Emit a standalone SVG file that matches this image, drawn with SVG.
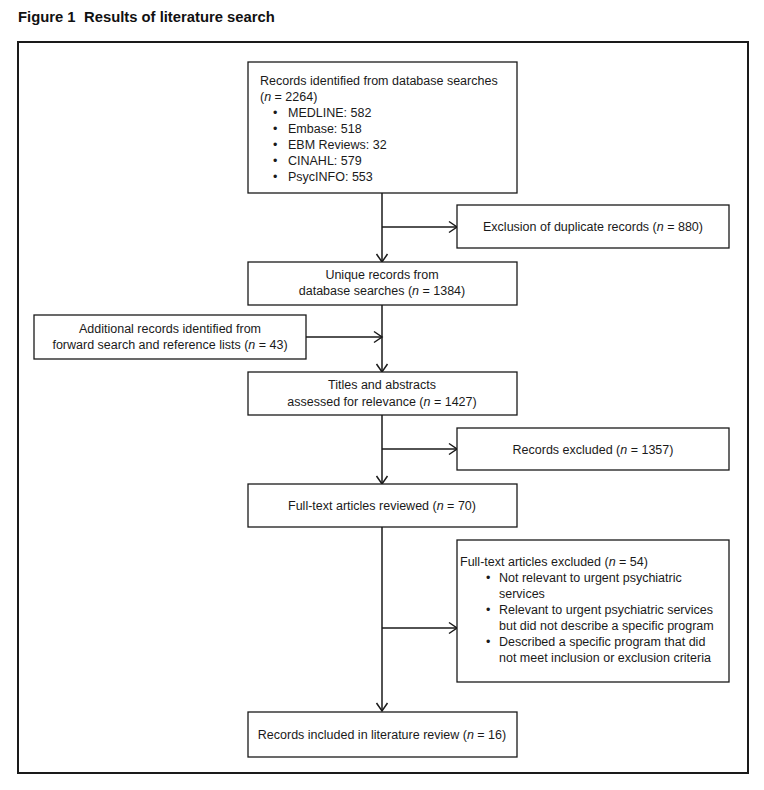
<svg xmlns="http://www.w3.org/2000/svg" width="764" height="790" viewBox="0 0 764 790">
<style>
.t{font-family:"Liberation Sans",Arial,sans-serif;font-size:12.5px;fill:#1a1a1a}
.c{text-anchor:middle}
.box{fill:#fff;stroke:#1a1a1a;stroke-width:1.3}
.ln{fill:none;stroke:#1a1a1a;stroke-width:1.5}
.ttl{font-family:"Liberation Sans",Arial,sans-serif;font-size:14.8px;font-weight:bold;fill:#111;white-space:pre}
</style>
<defs>
<marker id="ah" viewBox="0 0 8 12" refX="8" refY="6" markerWidth="8" markerHeight="12" markerUnits="userSpaceOnUse" orient="auto" overflow="visible">
<path d="M0,0.5 L8,6 L0,11.5" fill="none" stroke="#1a1a1a" stroke-width="1.5"/>
</marker>
</defs>
<rect width="764" height="790" fill="#fff"/>
<text class="ttl" x="18" y="22">Figure 1</text>
<text class="ttl" x="84" y="22">Results of literature search</text>
<rect x="18" y="42" width="730" height="731" fill="none" stroke="#1a1a1a" stroke-width="2"/>
<g id="connectors">
<line class="ln" x1="382" y1="193" x2="382" y2="262" marker-end="url(#ah)"/>
<line class="ln" x1="382" y1="227" x2="457" y2="227" marker-end="url(#ah)"/>
<line class="ln" x1="382" y1="305" x2="382" y2="372" marker-end="url(#ah)"/>
<line class="ln" x1="306" y1="337" x2="382" y2="337" marker-end="url(#ah)"/>
<line class="ln" x1="382" y1="415" x2="382" y2="484" marker-end="url(#ah)"/>
<line class="ln" x1="382" y1="449" x2="457" y2="449" marker-end="url(#ah)"/>
<line class="ln" x1="382" y1="527" x2="382" y2="711" marker-end="url(#ah)"/>
<line class="ln" x1="382" y1="628" x2="457" y2="628" marker-end="url(#ah)"/>
</g>
<g id="n1">
<rect class="box" x="248" y="62" width="269" height="131"/>
<text class="t" x="260" y="85">Records identified from database searches</text>
<text class="t" x="260" y="101">(<tspan font-style="italic">n</tspan> = 2264)</text>
<text class="t" x="273" y="117">•</text><text class="t" x="288" y="117">MEDLINE: 582</text>
<text class="t" x="273" y="133">•</text><text class="t" x="288" y="133">Embase: 518</text>
<text class="t" x="273" y="149">•</text><text class="t" x="288" y="149">EBM Reviews: 32</text>
<text class="t" x="273" y="165">•</text><text class="t" x="288" y="165">CINAHL: 579</text>
<text class="t" x="273" y="181">•</text><text class="t" x="288" y="181">PsycINFO: 553</text>
</g>
<g id="n2">
<rect class="box" x="457" y="205" width="272" height="43"/>
<text class="t c" x="593" y="231">Exclusion of duplicate records (<tspan font-style="italic">n</tspan> = 880)</text>
</g>
<g id="n3">
<rect class="box" x="248" y="262" width="269" height="43"/>
<text class="t c" x="382" y="279">Unique records from</text>
<text class="t c" x="382" y="295">database searches (<tspan font-style="italic">n</tspan> = 1384)</text>
</g>
<g id="n4">
<rect class="box" x="34" y="315" width="272" height="44"/>
<text class="t c" x="170" y="333">Additional records identified from</text>
<text class="t c" x="170" y="349">forward search and reference lists (<tspan font-style="italic">n</tspan> = 43)</text>
</g>
<g id="n5">
<rect class="box" x="248" y="372" width="269" height="43"/>
<text class="t c" x="382" y="389">Titles and abstracts</text>
<text class="t c" x="382" y="406">assessed for relevance (<tspan font-style="italic">n</tspan> = 1427)</text>
</g>
<g id="n6">
<rect class="box" x="457" y="428" width="272" height="42"/>
<text class="t c" x="593" y="454">Records excluded (<tspan font-style="italic">n</tspan> = 1357)</text>
</g>
<g id="n7">
<rect class="box" x="248" y="484" width="269" height="43"/>
<text class="t c" x="382" y="510">Full-text articles reviewed (<tspan font-style="italic">n</tspan> = 70)</text>
</g>
<g id="n8">
<rect class="box" x="457" y="540" width="272" height="142"/>
<text class="t" x="460" y="566">Full-text articles excluded (<tspan font-style="italic">n</tspan> = 54)</text>
<text class="t" x="486" y="582">•</text><text class="t" x="499" y="582">Not relevant to urgent psychiatric</text>
<text class="t" x="499" y="598">services</text>
<text class="t" x="486" y="614">•</text><text class="t" x="499" y="614">Relevant to urgent psychiatric services</text>
<text class="t" x="499" y="630">but did not describe a specific program</text>
<text class="t" x="486" y="646">•</text><text class="t" x="499" y="646">Described a specific program that did</text>
<text class="t" x="499" y="662">not meet inclusion or exclusion criteria</text>
</g>
<g id="n9">
<rect class="box" x="248" y="712" width="269" height="45"/>
<text class="t c" x="382" y="739">Records included in literature review (<tspan font-style="italic">n</tspan> = 16)</text>
</g>
</svg>
